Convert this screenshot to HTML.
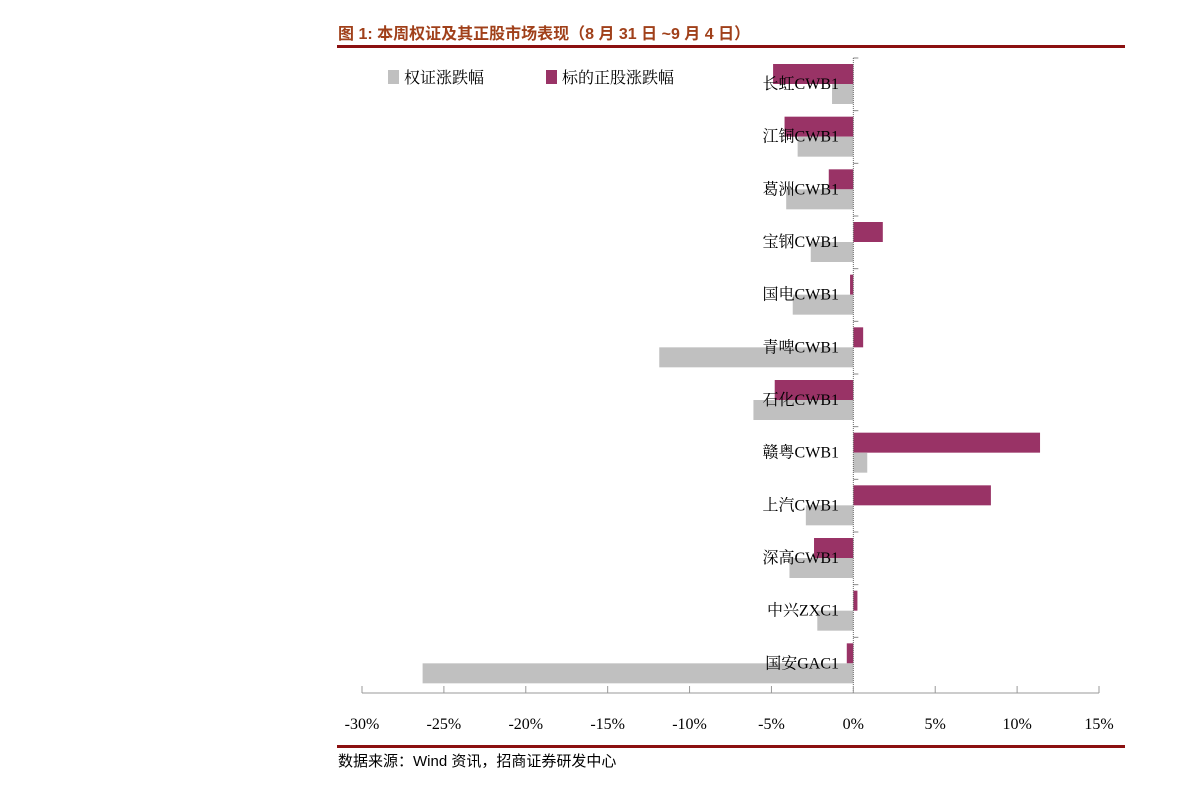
<!DOCTYPE html>
<html><head><meta charset="utf-8"><style>
body{margin:0;background:#fff;width:1191px;height:791px;overflow:hidden;font-family:"Liberation Serif","Noto Serif CJK SC",serif}
</style></head><body>
<svg width="1191" height="791" xmlns="http://www.w3.org/2000/svg">
<text x="338" y="39" font-size="16" font-weight="bold" fill="#a0401a" font-family="Liberation Sans,Noto Sans CJK SC,sans-serif">图 1:  本周权证及其正股市场表现（8 月 31 日 ~9 月 4 日）</text>
<rect x="337" y="45" width="788" height="3" fill="#8b1010"/>
<rect x="337" y="745" width="788" height="3" fill="#8b1010"/>
<text x="338" y="766" font-size="15" fill="#000" font-family="Liberation Sans,Noto Sans CJK SC,sans-serif">数据来源：Wind 资讯，招商证券研发中心</text>
<g>
<rect x="388" y="70" width="11" height="14" fill="#c0c0c0"/>
<text x="404" y="83" font-size="16">权证涨跌幅</text>
<rect x="546" y="70" width="11" height="14" fill="#993366"/>
<text x="562" y="83" font-size="16">标的正股涨跌幅</text>
</g>
<g id="plot"></g>
</svg>
<script>
const categories=["长虹CWB1","江铜CWB1","葛洲CWB1","宝钢CWB1","国电CWB1","青啤CWB1","石化CWB1","赣粤CWB1","上汽CWB1","深高CWB1","中兴ZXC1","国安GAC1"];
const stockValues=[-4.9,-4.2,-1.5,1.8,-0.2,0.6,-4.8,11.4,8.4,-2.4,0.25,-0.4];
const warrantValues=[-1.3,-3.4,-4.1,-2.6,-3.7,-11.85,-6.1,0.85,-2.9,-3.9,-2.2,-26.3];
const tickValues=[-30,-25,-20,-15,-10,-5,0,5,10,15];
const tickLabels=["-30%","-25%","-20%","-15%","-10%","-5%","0%","5%","10%","15%"];
const NS="http://www.w3.org/2000/svg";
const g=document.getElementById('plot');
const x0=362,x1=1099,vmin=-30,vmax=15,plotTop=58,plotBot=690;
const xs=v=>x0+(v-vmin)/(vmax-vmin)*(x1-x0);
const rh=(plotBot-plotTop)/categories.length;
function mk(t,a){const e=document.createElementNS(NS,t);for(const k in a)e.setAttribute(k,a[k]);g.appendChild(e);return e;}
categories.forEach((c,i)=>{
 const y=plotTop+i*rh;
 const s=stockValues[i],w=warrantValues[i];
 let r=mk('rect',{x:Math.min(xs(0),xs(s)),y:y+6,width:Math.abs(xs(s)-xs(0)),height:20,fill:'#993366'});
 
 
 r=mk('rect',{x:Math.min(xs(0),xs(w)),y:y+26,width:Math.abs(xs(w)-xs(0)),height:20,fill:'#c0c0c0'});
 
 
 const t=mk('text',{x:839,y:y+31,'font-size':16,'text-anchor':'end',fill:'#000'});
 t.textContent=c;
 
 
 const tk=mk('line',{x1:xs(0),x2:xs(0)+5,y1:y,y2:y,stroke:'#888'});
 
 
});
let l=mk('line',{x1:xs(0),x2:xs(0),y1:plotTop,y2:693,stroke:'#666','stroke-dasharray':'1,1'});


l=mk('line',{x1:x0,x2:x1,y1:693,y2:693,stroke:'#999'});


tickValues.forEach((v,i)=>{
 const tk=mk('line',{x1:xs(v),x2:xs(v),y1:686,y2:693,stroke:'#999'});
 
 
 const t=mk('text',{x:xs(v),y:729,'font-size':16,'text-anchor':'middle'});
 t.textContent=tickLabels[i];
 
 
});
</script>
</body></html>
